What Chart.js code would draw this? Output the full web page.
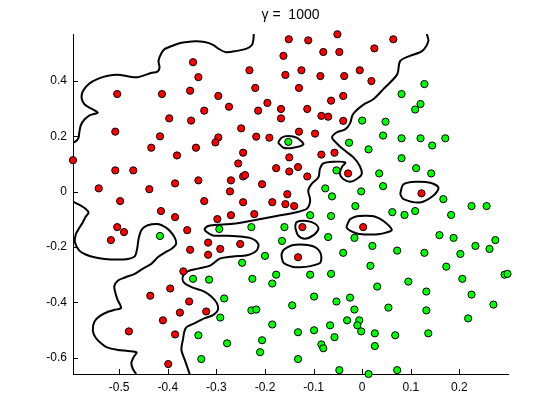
<!DOCTYPE html>
<html>
<head>
<meta charset="utf-8">
<script src="https://cdn.jsdelivr.net/npm/chart.js@4.4.1/dist/chart.umd.min.js"></script>
<style>
  html, body { margin: 0; padding: 0; background: #fff; }
  #wrap { width: 560px; height: 420px; }
</style>
</head>
<body>
<div id="wrap"><canvas id="chartCanvas" width="560" height="420"></canvas></div>
<script>
// class 1 (red) samples
const redX = [-0.348,-0.337,-0.504,-0.412,-0.354,-0.296,-0.325,-0.397,-0.352,-0.508,-0.416,-0.434,-0.342,-0.296,-0.302,
  -0.051,-0.151,-0.111,-0.080,-0.047,-0.162,-0.232,-0.158,-0.125,-0.086,-0.037,-0.005,-0.220,-0.130,-0.274,-0.195,-0.214,
  -0.167,-0.113,-0.064,-0.039,-0.167,-0.084,-0.070,-0.039,-0.249,-0.218,-0.191,-0.130,-0.097,0.064,0.025,0.019,
  -0.595,-0.381,-0.508,-0.471,-0.542,-0.438,-0.385,-0.337,-0.498,-0.325,-0.414,-0.385,-0.298,-0.504,-0.490,-0.517,
  -0.360,-0.317,-0.354,-0.317,-0.245,-0.255,-0.150,-0.177,-0.150,-0.132,-0.245,-0.241,-0.270,-0.206,-0.113,-0.084,
  -0.057,-0.029,-0.272,-0.154,-0.245,-0.185,-0.158,-0.140,-0.270,-0.222,-0.123,-0.251,-0.292,-0.132,0.002,0.122,
  -0.368,-0.395,-0.436,-0.356,-0.375,-0.321,-0.410,-0.480,-0.385,-0.399];
const redY = [0.468,0.414,0.353,0.353,0.365,0.346,0.293,0.265,0.257,0.217,0.200,0.159,0.159,0.196,0.178,
  0.569,0.551,0.547,0.505,0.505,0.491,0.439,0.422,0.439,0.418,0.418,0.439,0.375,0.375,0.307,0.321,0.293,
  0.299,0.299,0.329,0.346,0.265,0.274,0.271,0.256,0.229,0.199,0.195,0.217,0.210,0.551,0.518,0.400,
  0.114,0.131,0.077,0.077,0.012,0.009,0.030,0.041,-0.034,-0.034,-0.070,-0.092,-0.099,-0.128,-0.146,-0.175,
  -0.139,-0.184,-0.210,-0.228,0.141,0.102,0.124,0.085,0.073,0.089,0.055,0.060,0.041,0.027,0.055,0.134,
  0.141,0.066,0.001,-0.009,-0.038,-0.038,-0.045,-0.052,-0.085,-0.081,-0.128,-0.189,-0.207,-0.237,-0.128,-0.006,
  -0.288,-0.350,-0.376,-0.397,-0.437,-0.433,-0.465,-0.505,-0.516,-0.623];

// class 2 (green) samples
const greenX = [-0.152,-0.027,0.000,0.128,0.081,0.120,0.109,0.048,0.043,0.081,0.120,0.171,0.144,-0.416,-0.294,
  -0.053,-0.076,-0.062,-0.002,-0.014,-0.107,-0.064,-0.228,-0.160,-0.165,-0.070,-0.016,-0.200,-0.039,
  0.013,0.081,0.111,0.142,0.035,0.043,0.167,0.225,0.256,0.062,0.087,0.109,0.183,0.159,0.188,0.274,0.233,0.262,
  0.021,0.072,0.128,0.202,-0.348,-0.315,-0.337,-0.331,-0.247,-0.226,-0.177,-0.185,-0.107,-0.064,-0.284,-0.292,
  -0.228,-0.218,-0.144,-0.099,-0.053,-0.025,-0.016,-0.185,-0.132,-0.099,-0.066,-0.031,-0.006,-0.010,-0.002,
  -0.057,-0.084,-0.080,-0.278,-0.206,-0.210,-0.132,-0.047,0.017,0.173,0.293,0.299,0.095,0.031,0.206,0.132,
  0.225,0.270,0.054,0.132,0.218,0.026,0.068,0.136,0.026,0.013,0.072];
const greenY = [0.180,0.177,0.257,0.389,0.353,0.317,0.297,0.253,0.203,0.193,0.193,0.193,0.167,-0.160,-0.135,
  0.077,0.012,-0.017,0.001,-0.052,-0.085,-0.088,-0.128,-0.128,-0.178,-0.164,-0.167,-0.232,-0.221,
  0.153,0.121,0.085,0.066,0.066,0.020,-0.027,-0.052,-0.052,-0.074,-0.084,-0.070,-0.084,-0.157,-0.167,-0.175,-0.196,-0.207,
  -0.196,-0.213,-0.221,-0.225,-0.315,-0.318,-0.519,-0.605,-0.257,-0.315,-0.300,-0.332,-0.300,-0.297,-0.386,-0.455,
  -0.429,-0.426,-0.411,-0.379,-0.397,-0.383,-0.426,-0.480,-0.508,-0.501,-0.483,-0.465,-0.465,-0.483,-0.505,
  -0.526,-0.552,-0.566,-0.548,-0.537,-0.580,-0.605,-0.645,-0.268,-0.271,-0.300,-0.297,-0.325,-0.343,-0.315,-0.361,
  -0.372,-0.408,-0.419,-0.429,-0.458,-0.512,-0.519,-0.512,-0.558,-0.659,-0.645];

// decision boundary (gamma = 1000), traced as [x, y]
const boundaryA1 = [[-0.223,0.570],[-0.224,0.548],[-0.227,0.530],[-0.239,0.516],[-0.258,0.509],[-0.280,0.504],
  [-0.295,0.516],[-0.307,0.531],[-0.324,0.541],[-0.344,0.544],[-0.369,0.539],[-0.385,0.531],[-0.406,0.516],
  [-0.414,0.498],[-0.419,0.473],[-0.417,0.448],[-0.422,0.433],[-0.433,0.430],[-0.462,0.414],[-0.482,0.417],
  [-0.503,0.423],[-0.523,0.419],[-0.544,0.408],[-0.562,0.390],[-0.575,0.362],[-0.577,0.336],[-0.571,0.315],
  [-0.558,0.301],[-0.544,0.286],[-0.560,0.277],[-0.571,0.262],[-0.579,0.240],[-0.582,0.214],[-0.584,0.193],
  [-0.591,0.180],[-0.597,0.178]];
const boundaryA2 = [[-0.597,-0.033],[-0.589,-0.041],[-0.578,-0.051],[-0.569,-0.062],[-0.563,-0.075],[-0.569,-0.091],
  [-0.575,-0.111],[-0.583,-0.134],[-0.589,-0.153],[-0.591,-0.183],[-0.582,-0.213],[-0.569,-0.227],[-0.551,-0.237],
  [-0.530,-0.243],[-0.503,-0.245],[-0.482,-0.243],[-0.468,-0.234],[-0.463,-0.206],[-0.460,-0.170],[-0.455,-0.141],
  [-0.447,-0.126],[-0.433,-0.118],[-0.420,-0.117],[-0.406,-0.127],[-0.396,-0.141],[-0.386,-0.165],[-0.383,-0.189],
  [-0.392,-0.206],[-0.406,-0.220],[-0.420,-0.236],[-0.434,-0.261],[-0.451,-0.278],[-0.468,-0.297],[-0.488,-0.310],
  [-0.503,-0.322],[-0.510,-0.342],[-0.508,-0.364],[-0.503,-0.392],[-0.496,-0.420],[-0.509,-0.427],[-0.523,-0.434],
  [-0.540,-0.450],[-0.551,-0.470],[-0.554,-0.504],[-0.548,-0.529],[-0.537,-0.548],[-0.525,-0.563],[-0.503,-0.572],
  [-0.482,-0.576],[-0.464,-0.581],[-0.470,-0.597],[-0.475,-0.619],[-0.472,-0.640],[-0.465,-0.659]];
const boundaryB = [[-0.355,-0.659],[-0.365,-0.608],[-0.372,-0.572],[-0.369,-0.536],[-0.363,-0.493],[-0.344,-0.475],
  [-0.324,-0.457],[-0.307,-0.446],[-0.297,-0.428],[-0.299,-0.403],[-0.311,-0.378],[-0.326,-0.360],[-0.350,-0.346],
  [-0.367,-0.328],[-0.369,-0.306],[-0.359,-0.288],[-0.338,-0.278],[-0.313,-0.267],[-0.293,-0.242],[-0.266,-0.234],
  [-0.237,-0.230],[-0.217,-0.212],[-0.214,-0.188],[-0.231,-0.167],[-0.266,-0.160],[-0.307,-0.158],[-0.320,-0.146],
  [-0.324,-0.134],[-0.313,-0.122],[-0.266,-0.116],[-0.225,-0.104],[-0.176,-0.088],[-0.135,-0.074],[-0.114,-0.062],
  [-0.107,-0.032],[-0.111,0.004],[-0.104,0.028],[-0.090,0.052],[-0.087,0.082],[-0.080,0.102],[-0.060,0.108],
  [-0.035,0.106],[-0.042,0.088],[-0.046,0.064],[-0.039,0.046],[-0.025,0.036],[-0.011,0.046],[-0.001,0.064],
  [-0.005,0.093],[-0.018,0.124],[-0.039,0.153],[-0.054,0.178],[-0.062,0.196],[-0.053,0.214],[-0.035,0.225],
  [-0.025,0.247],[-0.019,0.280],[0.002,0.314],[0.023,0.334],[0.043,0.370],[0.072,0.424],[0.078,0.472],
  [0.098,0.491],[0.123,0.508],[0.136,0.544],[0.133,0.570]];
const loop1 = [[-0.173,0.177],[-0.166,0.195],[-0.152,0.201],[-0.135,0.195],[-0.121,0.171],[-0.142,0.159],[-0.162,0.159],[-0.173,0.177]];
const loop2 = [[0.078,-0.009],[0.085,0.027],[0.112,0.036],[0.140,0.032],[0.157,0.014],[0.146,-0.015],[0.119,-0.039],[0.085,-0.027],[0.078,-0.009]];
const loop3 = [[-0.031,-0.120],[-0.025,-0.100],[-0.011,-0.089],[0.006,-0.087],[0.024,-0.089],[0.043,-0.105],[0.061,-0.138],
  [0.049,-0.148],[0.033,-0.154],[0.012,-0.155],[-0.009,-0.152],[-0.025,-0.141],[-0.032,-0.130],[-0.031,-0.120]];
const loop4 = [[-0.138,-0.128],[-0.135,-0.110],[-0.114,-0.106],[-0.097,-0.116],[-0.090,-0.134],[-0.101,-0.158],[-0.118,-0.170],[-0.132,-0.158],[-0.138,-0.128]];
const loop5 = [[-0.163,-0.255],[-0.166,-0.231],[-0.163,-0.213],[-0.155,-0.202],[-0.142,-0.193],[-0.128,-0.191],[-0.112,-0.193],
  [-0.097,-0.200],[-0.087,-0.217],[-0.084,-0.238],[-0.087,-0.258],[-0.107,-0.269],[-0.128,-0.273],[-0.142,-0.272],[-0.157,-0.263],[-0.163,-0.255]];

const xTicks = [-0.5,-0.4,-0.3,-0.2,-0.1,0,0.1,0.2];
const yTicks = [-0.6,-0.4,-0.2,0,0.2,0.4];
const titleText = 'γ =  1000';

const FONT = "'Liberation Sans', Arial, Helvetica, sans-serif";

function pts(xs, ys) { return xs.map((x, i) => ({ x: x, y: ys[i] })); }
function curve(pairs) {
  return {
    type: 'scatter',
    data: pairs.map(p => ({ x: p[0], y: p[1] })),
    showLine: true,
    borderColor: '#000',
    borderWidth: 2,
    pointRadius: 0,
    tension: 0.3,
    fill: false
  };
}
function dots(xs, ys, color) {
  return {
    type: 'scatter',
    data: pts(xs, ys),
    backgroundColor: color,
    borderColor: '#000',
    borderWidth: 1,
    pointRadius: 3.6,
    clip: false
  };
}

// MATLAB style ticks pointing into the axes
const inwardTicks = {
  id: 'inwardTicks',
  afterDatasetsDraw(chart) {
    const { ctx, chartArea: a, scales } = chart;
    ctx.save();
    ctx.strokeStyle = '#000';
    ctx.lineWidth = 1;
    ctx.beginPath();
    xTicks.forEach(v => {
      const p = Math.round(scales.x.getPixelForValue(v)) + 0.5;
      ctx.moveTo(p, a.bottom);
      ctx.lineTo(p, a.bottom - 5);
    });
    yTicks.forEach(v => {
      const p = Math.round(scales.y.getPixelForValue(v)) + 0.5;
      ctx.moveTo(a.left, p);
      ctx.lineTo(a.left + 5, p);
    });
    ctx.stroke();
    ctx.restore();
  }
};

const fmt = v => String(Math.round(v * 10) / 10);

new Chart(document.getElementById('chartCanvas').getContext('2d'), {
  type: 'scatter',
  data: {
    datasets: [
      dots(redX, redY, '#ff0000'),
      dots(greenX, greenY, '#00ff00'),
      curve(boundaryA1), curve(boundaryA2), curve(boundaryB),
      curve(loop1), curve(loop2), curve(loop3), curve(loop4), curve(loop5)
    ]
  },
  options: {
    responsive: false,
    animation: false,
    layout: { padding: { left: 0, right: 52, top: 0, bottom: 0 } },
    plugins: {
      legend: { display: false },
      tooltip: { enabled: false },
      title: {
        display: true,
        text: titleText,
        color: '#000',
        fullSize: false,
        font: { family: FONT, size: 14, weight: 'normal' },
        padding: { top: 7, bottom: 10.2 }
      }
    },
    scales: {
      x: {
        type: 'linear',
        min: -0.595, max: 0.3,
        grid: { display: false, drawTicks: false },
        border: { display: true, color: '#000', width: 1 },
        afterBuildTicks: s => { s.ticks = xTicks.map(v => ({ value: v })); },
        afterFit: s => { s.height = 46; },
        ticks: { color: '#000', font: { family: FONT, size: 12 }, padding: 6, maxRotation: 0, callback: fmt }
      },
      y: {
        type: 'linear',
        min: -0.659, max: 0.57,
        grid: { display: false, drawTicks: false },
        border: { display: true, color: '#000', width: 1 },
        afterBuildTicks: s => { s.ticks = yTicks.map(v => ({ value: v })); },
        afterFit: s => { s.width = 73; },
        ticks: { color: '#000', font: { family: FONT, size: 12 }, padding: 6, callback: fmt }
      }
    }
  },
  plugins: [inwardTicks]
});
</script>
</body>
</html>
